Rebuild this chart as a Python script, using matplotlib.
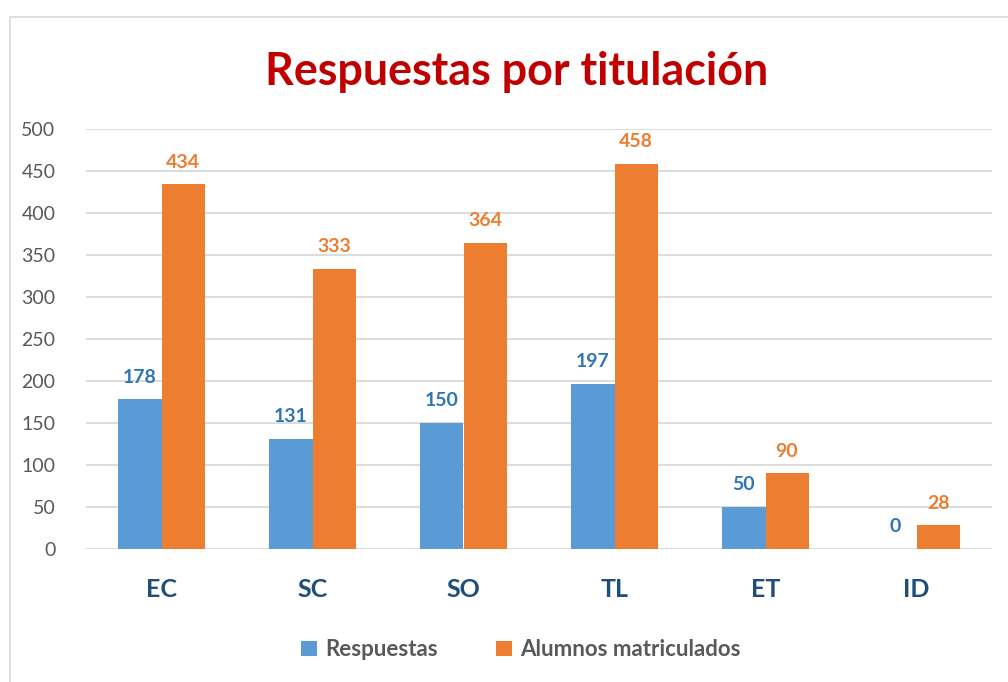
import numpy as np
import matplotlib.pyplot as plt
from matplotlib.patches import Rectangle

categories = ['EC', 'SC', 'SO', 'TL', 'ET', 'ID']
respuestas = [178, 131, 150, 197, 50, 0]
matriculados = [434, 333, 364, 458, 90, 28]
series_names = ['Respuestas', 'Alumnos matriculados']

plt.rcParams['font.family'] = ['Lato', 'DejaVu Sans']

blue = '#5B9BD5'
orange = '#ED7D31'
gray = '#595959'

fig = plt.figure(figsize=(10.08, 6.82), dpi=100)
ax = fig.add_axes([86 / 1008, 133 / 682, 906 / 1008, 420 / 682])

# chart frame
fig.patches.append(Rectangle((10 / 1008, -0.1), 1.2, (682 - 17) / 682 + 0.1,
                             transform=fig.transFigure, fill=False,
                             edgecolor='#D9D9D9', linewidth=1.2))

x = np.arange(len(categories))
w = 0.285
b1 = ax.bar(x - w / 2, respuestas, w, color=blue, label=series_names[0])
b2 = ax.bar(x + w / 2, matriculados, w, color=orange, label=series_names[1])

for bars, vals, col in [(b1, respuestas, '#2E75B6'), (b2, matriculados, orange)]:
    for r, v in zip(bars, vals):
        ax.annotate(str(v), (r.get_x() + r.get_width() / 2, v),
                    xytext=(0, 10), textcoords='offset points',
                    ha='center', va='bottom', fontsize=14,
                    fontweight='bold', color=col)

ax.set_xlim(-0.5, len(categories) - 0.5)
ax.set_ylim(0, 500)
ax.set_yticks(range(0, 501, 50))
ax.yaxis.grid(True, color='#D9D9D9', linewidth=1.3)
ax.set_axisbelow(True)
for s in ax.spines.values():
    s.set_visible(False)
ax.tick_params(axis='y', length=0, labelsize=14, labelcolor=gray, pad=22)
ax.tick_params(axis='x', length=0, labelsize=18, pad=21)
ax.set_xticks(x)
ax.set_xticklabels(categories, fontweight='bold', color='#1F4E79')

fig.text(0.513, 0.895, 'Respuestas por titulación', ha='center', va='center',
         fontsize=32.3, fontweight='bold', color='#C00000')

leg = fig.legend(loc='center', bbox_to_anchor=(0.517, 0.047), ncol=2,
                 frameon=False, fontsize=16, handlelength=0.7,
                 handleheight=0.7, handletextpad=0.4, columnspacing=2.6)
for t in leg.get_texts():
    t.set_color(gray)
    t.set_fontweight('bold')

plt.savefig('out.png', dpi=100)
